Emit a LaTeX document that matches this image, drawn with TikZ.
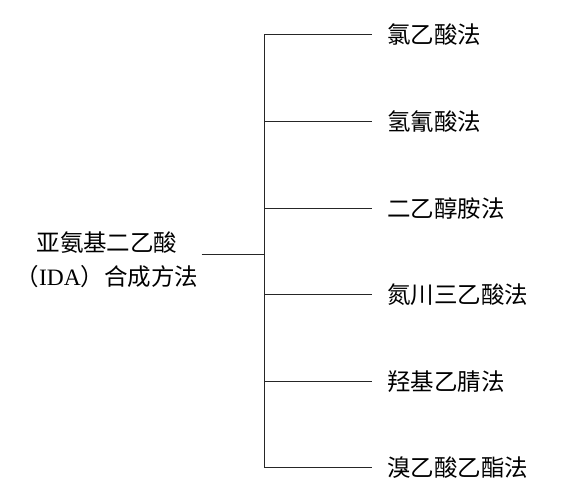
\documentclass[tikz,border=0pt]{standalone}
\usepackage{fontspec}
\setmainfont{Liberation Serif}
\newfontfamily\cjk{Noto Sans CJK SC}
\usepackage{tikz}
\tikzstyle{root} = [align=center, inner xsep=3pt, inner ysep=0pt, font=\fontsize{23.5}{34}\selectfont]
\tikzstyle{method} = [anchor=west, inner xsep=15pt, inner ysep=0pt, font=\cjk\fontsize{23.5}{34}\selectfont]
\tikzstyle{line} = [line width=1pt, draw=black!85]

\begin{document}
\begin{tikzpicture}[x=1pt, y=1pt]
      \useasboundingbox (0,0) rectangle (563,-494);
      \node (root) [root] at (107,-260) {{\cjk 亚氨基二乙酸}\\{\cjk （}IDA{\cjk ）合成方法}};
      \coordinate (top) at (264,-35);
      \coordinate (bot) at (264,-468);
      \coordinate (mid) at (264,-255);
      \node (m1) [method] at (372,-35) {氯乙酸法};
      \node (m2) [method] at (372,-122) {氢氰酸法};
      \node (m3) [method] at (372,-209) {二乙醇胺法};
      \node (m4) [method] at (372,-295) {氮川三乙酸法};
      \node (m5) [method] at (372,-382) {羟基乙腈法};
      \node (m6) [method] at (372,-468) {溴乙酸乙酯法};
      \draw [line] (root.east |- mid) -- (mid);
      \draw [line] (top) -- (bot);
      \draw [line] (m1.west -| top) -- (m1.west);
      \draw [line] (m2.west -| top) -- (m2.west);
      \draw [line] (m3.west -| top) -- (m3.west);
      \draw [line] (m4.west -| top) -- (m4.west);
      \draw [line] (m5.west -| top) -- (m5.west);
      \draw [line] (m6.west -| top) -- (m6.west);
    \end{tikzpicture}
\end{document}
